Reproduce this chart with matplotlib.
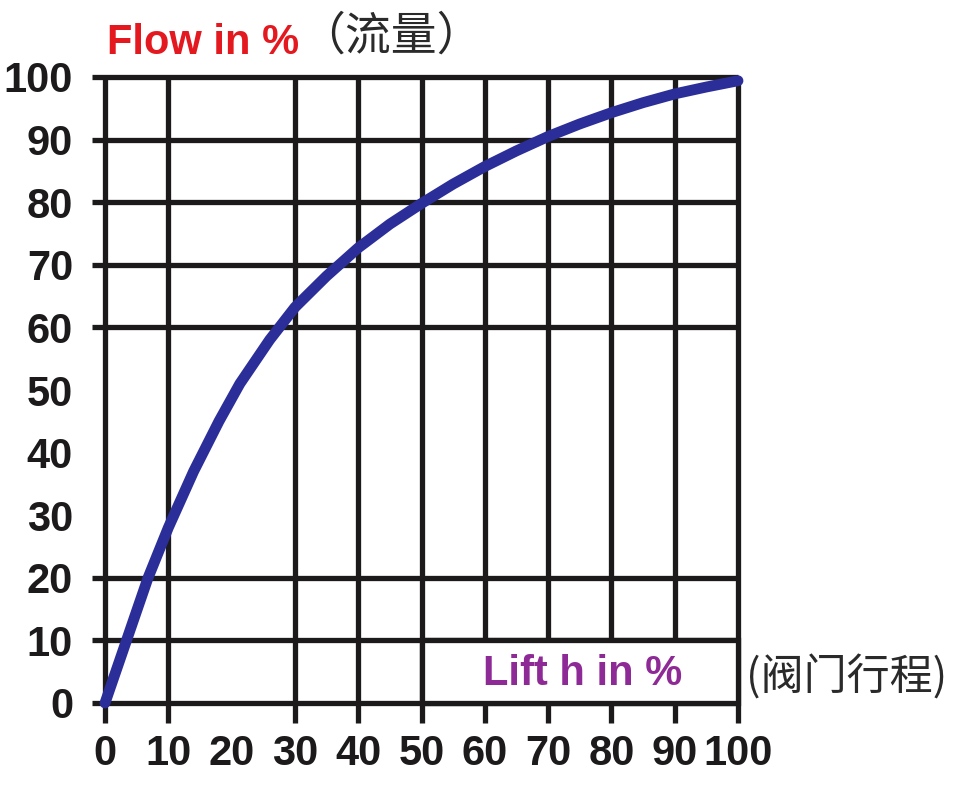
import matplotlib
matplotlib.use("Agg")
import matplotlib.pyplot as plt
from matplotlib import font_manager
from matplotlib.patches import Rectangle

# ---- data ----
lift = [0, 3.4, 6.8, 10, 14, 18, 21.3, 26, 30, 35, 40, 45, 50, 55, 60, 65,
        70, 75, 80, 85, 90, 95, 100]
flow = [0, 10, 20, 28, 37, 45, 51, 58.0, 63.2, 68.2, 72.7, 76.5, 79.8, 82.9,
        85.7, 88.2, 90.5, 92.5, 94.3, 95.9, 97.3, 98.4, 99.4]
x_ticks = [0, 10, 20, 30, 40, 50, 60, 70, 80, 90, 100]
y_ticks = [0, 10, 20, 30, 40, 50, 60, 70, 80, 90, 100]
v_grid = [0, 10, 30, 40, 50, 60, 70, 80, 90, 100]
h_grid = [0, 10, 20, 60, 70, 80, 90, 100]
title_en = "Flow in %"
title_cn = "（流量）"
xlabel_en = "Lift h in %"
xlabel_cn = "(阀门行程)"

names = {f.name for f in font_manager.fontManager.ttflist}
narrow = "Liberation Sans Narrow" if "Liberation Sans Narrow" in names else "Liberation Sans"

W, H = 957, 796
fig = plt.figure(figsize=(W / 100, H / 100), dpi=100)
L, R, T, B = 105, 738, 77, 703
ax = fig.add_axes([L / W, 1 - B / H, (R - L) / W, (B - T) / H])
ax.set_xlim(0, 100)
ax.set_ylim(0, 100)
for s in ax.spines.values():
    s.set_visible(False)

gc = "#1c1a1a"
glw = 3.8
ext_x = 13 / (R - L) * 100   # left extension of horizontal lines
ext_y = 20 / (B - T) * 100   # downward extension of vertical lines
ax.vlines(v_grid, -ext_y, 100, colors=gc, linewidth=glw, clip_on=False, zorder=2)
ax.hlines(h_grid, -ext_x, 100, colors=gc, linewidth=glw, clip_on=False, zorder=2)

# label box in lower right
ax.add_patch(Rectangle((50, 0), 50, 10, facecolor="white", edgecolor=gc,
                       linewidth=glw, zorder=3, clip_on=False))
ax.text(75.5, 4.6, xlabel_en, color="#8e2a96", fontsize=30, fontweight="bold",
        family=narrow, ha="center", va="center", zorder=4)

ax.plot(lift, flow, color="#2b2e98", linewidth=7.8, solid_capstyle="round",
        solid_joinstyle="round", zorder=5, clip_on=False)

ax.set_xticks(x_ticks)
ax.set_yticks(y_ticks)
ax.set_xticklabels([str(v) for v in x_ticks], fontsize=30, fontweight="bold",
                   family=narrow, color="#1c1a1a")
ax.set_yticklabels([str(v) for v in y_ticks], fontsize=30, fontweight="bold",
                   family=narrow, color="#1c1a1a")
ax.tick_params(axis="x", length=0, pad=22)
ax.tick_params(axis="y", length=0, pad=23)

fig.text(107 / W, 1 - 43 / H, title_en, color="#e3191f", fontsize=30,
         fontweight="bold", family=narrow, ha="left", va="center")
fig.text(299 / W, 1 - 36 / H, title_cn, color="#2a2a2a", fontsize=33,
         family=["Noto Sans CJK SC", "DejaVu Sans"], ha="left", va="center")
fig.text(746 / W, 1 - 678 / H, xlabel_cn, color="#2a2a2a", fontsize=31,
         family=["Noto Sans CJK SC", "DejaVu Sans"], ha="left", va="center")

fig.savefig("out.png", dpi=100, facecolor="white")
